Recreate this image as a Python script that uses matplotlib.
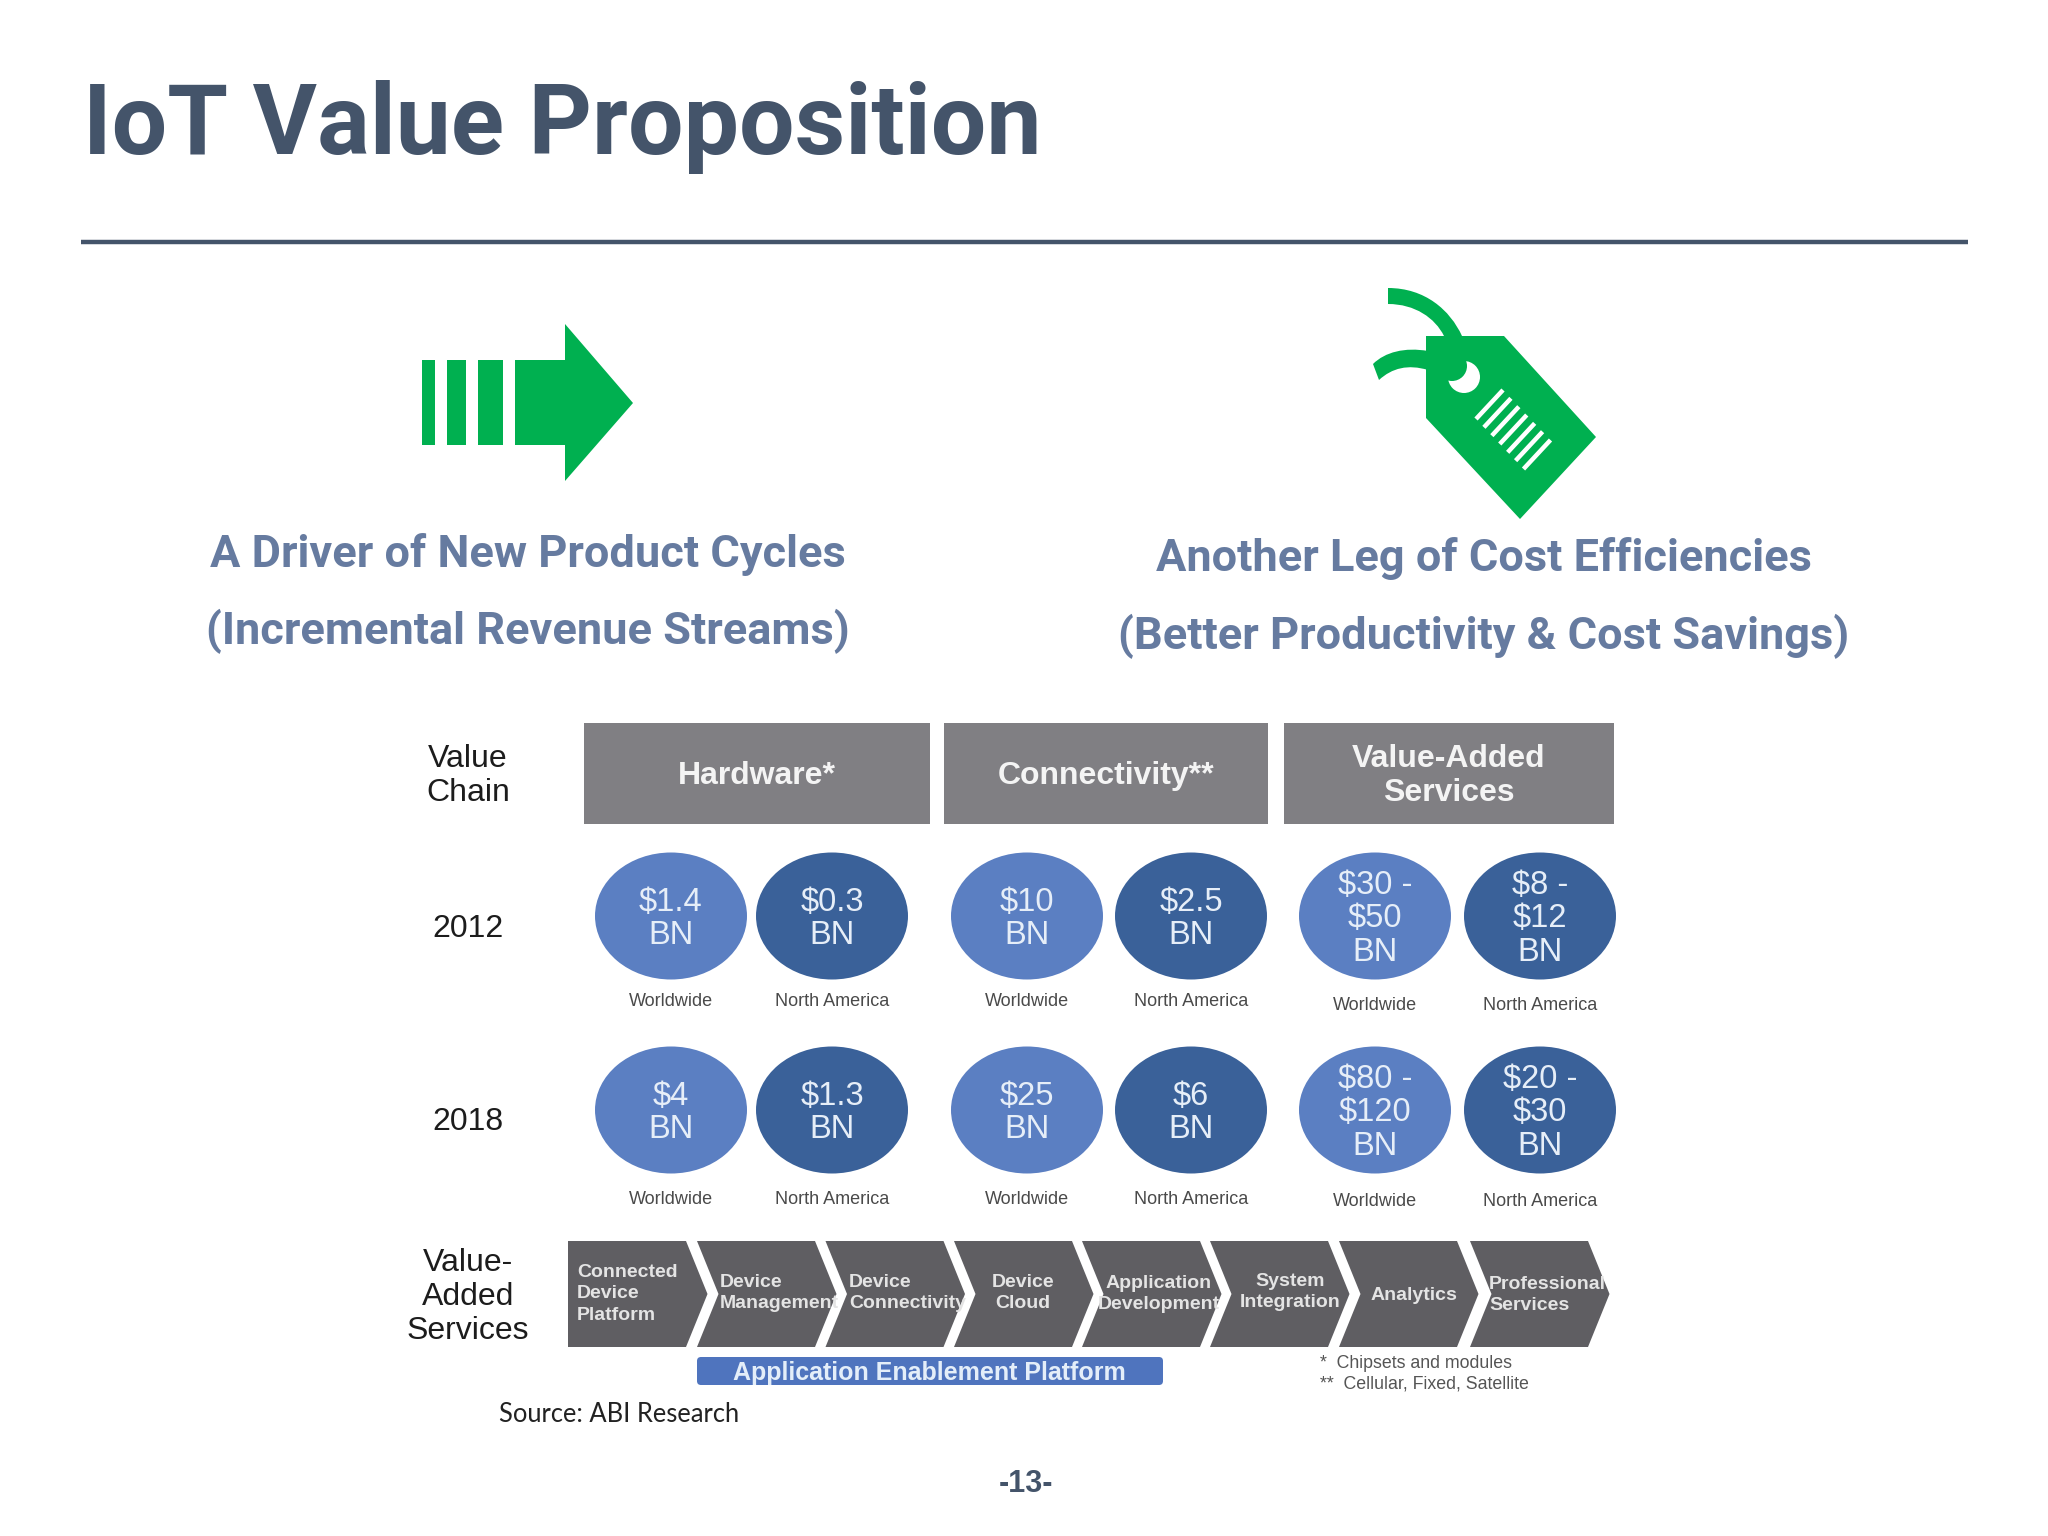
import matplotlib
matplotlib.use('Agg')
import matplotlib.pyplot as plt
from matplotlib.patches import Polygon, Ellipse, Rectangle, FancyBboxPatch, PathPatch
from matplotlib.path import Path

plt.rcParams['font.family'] = ['Liberation Sans', 'DejaVu Sans']

SLATE = '#44546A'
SUBTITLE = '#667BA0'
GREEN = '#00B050'
LIGHT_BLUE = '#5B7FC2'
DARK_BLUE = '#3A6199'
HEADER_GREY = '#807F83'
CHEVRON_GREY = '#5F5E62'

title = 'IoT Value Proposition'
left_lines = ['A Driver of New Product Cycles', '(Incremental Revenue Streams)']
right_lines = ['Another Leg of Cost Efficiencies', '(Better Productivity & Cost Savings)']

headers = ['Hardware*', 'Connectivity**', 'Value-Added\nServices']
regions = ['Worldwide', 'North America'] * 3
values_2012 = ['$1.4\nBN', '$0.3\nBN', '$10\nBN', '$2.5\nBN', '$30 -\n$50\nBN', '$8 -\n$12\nBN']
values_2018 = ['$4\nBN', '$1.3\nBN', '$25\nBN', '$6\nBN', '$80 -\n$120\nBN', '$20 -\n$30\nBN']
services = ['Connected\nDevice\nPlatform', 'Device\nManagement', 'Device\nConnectivity',
            'Device\nCloud', 'Application\nDevelopment', 'System\nIntegration',
            'Analytics', 'Professional\nServices']
footnotes = ['*  Chipsets and modules', '**  Cellular, Fixed, Satellite']

fig = plt.figure(figsize=(20.48, 15.36), dpi=100)
ax = fig.add_axes([0, 0, 1, 1])
ax.set_xlim(0, 2048)
ax.set_ylim(1536, 0)
ax.axis('off')

# heading
ax.text(83, 127, title, fontsize=70.8, fontweight='bold', color=SLATE, ha='left', va='center', family='Roboto')
ax.plot([81, 1968], [242, 242], color=SLATE, lw=3.2, solid_capstyle='butt')

# arrow icon
for x0, x1 in [(422, 435), (447, 466), (478, 503)]:
    ax.add_patch(Rectangle((x0, 360), x1 - x0, 85, fc=GREEN, ec='none'))
ax.add_patch(Polygon([(515, 360), (565, 360), (565, 324), (633, 403), (565, 481), (565, 445), (515, 445)],
                     fc=GREEN, ec='none'))

# price tag icon
ax.add_patch(Polygon([(1426, 336), (1504, 336), (1596, 437), (1520, 519), (1426, 418)], fc=GREEN, ec='none'))
ax.add_patch(Ellipse((1464, 377), 32, 32, fc='white', ec='none'))
ax.add_patch(Ellipse((1452, 366), 30, 30, fc=GREEN, ec='none'))
upper = Path([(1388, 288), (1425, 288), (1450, 310), (1462, 336), (1470, 360), (1444, 350), (1444, 336),
              (1435, 318), (1415, 304), (1388, 304), (1388, 288)],
             [Path.MOVETO, Path.CURVE4, Path.CURVE4, Path.CURVE4, Path.LINETO, Path.LINETO, Path.LINETO,
              Path.CURVE4, Path.CURVE4, Path.CURVE4, Path.CLOSEPOLY])
ax.add_patch(PathPatch(upper, fc=GREEN, ec='none'))
lower = Path([(1373, 364), (1385, 352), (1405, 347), (1428, 351), (1428, 370),
              (1408, 364), (1392, 368), (1379, 380), (1373, 364)],
             [Path.MOVETO, Path.CURVE4, Path.CURVE4, Path.CURVE4, Path.LINETO,
              Path.CURVE4, Path.CURVE4, Path.CURVE4, Path.CLOSEPOLY])
ax.add_patch(PathPatch(lower, fc=GREEN, ec='none'))
for i in range(7):
    dx = i * 47.5 / 6
    dy = i * 50 / 6
    ax.plot([1503 + dx, 1476 + dx], [390 + dy, 419 + dy], color='white', lw=3.2, solid_capstyle='butt')

# sub headings
for y, line in zip([555, 631], left_lines):
    ax.text(528, y, line, fontsize=32.5, fontweight='bold', color=SUBTITLE, ha='center', va='center', family='Roboto')
for y, line in zip([559, 636], right_lines):
    ax.text(1484, y, line, fontsize=32.5, fontweight='bold', color=SUBTITLE, ha='center', va='center', family='Roboto')

# row labels
label_color = '#1C1C1C'
for y, label in zip([776, 929, 1122, 1297], ['Value\nChain', '2012', '2018', 'Value-\nAdded\nServices']):
    ax.text(468, y, label, fontsize=23, color=label_color, ha='center', va='center', linespacing=1.19)

# value chain headers
header_x = [(584, 930), (944, 1268), (1284, 1614)]
for (x0, x1), header in zip(header_x, headers):
    ax.add_patch(Rectangle((x0, 723), x1 - x0, 101, fc=HEADER_GREY, ec='none'))
    ax.text((x0 + x1) / 2, 776, header, fontsize=23, fontweight='bold', color='#F4F4F4',
            ha='center', va='center', linespacing=1.15)

# value bubbles
bubble_x = [671, 832, 1027, 1191, 1375, 1540]
for cy, ly, values in [(916, 1002, values_2012), (1110, 1199, values_2018)]:
    for i, (cx, val, region) in enumerate(zip(bubble_x, values, regions)):
        ax.add_patch(Ellipse((cx, cy), 152, 127, fc=LIGHT_BLUE if i % 2 == 0 else DARK_BLUE, ec='none'))
        ax.text(cx, cy + 3, val, fontsize=23.5, color='#E6EEF8', ha='center', va='center', linespacing=1.11)
        ax.text(cx, ly + (3 if i >= 4 else 0), region, fontsize=13, color='#4A4A4A', ha='center', va='center')

# service chevrons, each one covers the overhanging text of the one before
chevron_left = [568, 697, 825.5, 954, 1082, 1210, 1339, 1470]
top, bottom, mid = 1241, 1347, 1294
text_pos = [(577, 'left', 1294), (720, 'left', 1293), (849, 'left', 1293), (1023, 'center', 1293),
            (1159, 'center', 1294), (1290, 'center', 1292), (1414, 'center', 1296), (1489, 'left', 1295)]
for i, (x0, service, (tx, ha, ty)) in enumerate(zip(chevron_left, services, text_pos)):
    w = 118
    pts = [(x0, top), (x0 + w, top), (x0 + w + 21.5, mid), (x0 + w, bottom), (x0, bottom)]
    if i > 0:
        pts.append((x0 + 21.5, mid))
    ax.add_patch(Polygon(pts, fc=CHEVRON_GREY, ec='none', zorder=2 + i))
    ax.text(tx, ty, service, fontsize=14, fontweight='bold', color='#E4E4E4', ha=ha, va='center',
            linespacing=1.32, zorder=2 + i)

# platform bar and notes
ax.add_patch(FancyBboxPatch((700, 1360), 460, 22, boxstyle='round,pad=3,rounding_size=4',
                            fc='#4F74BE', ec='none'))
ax.text(929, 1373, 'Application Enablement Platform', fontsize=18, fontweight='bold',
        color='#E4EEF9', ha='center', va='center')
for y, note in zip([1364, 1384], footnotes):
    ax.text(1320, y, note, fontsize=12.8, color='#555555', ha='left', va='center')
ax.text(499, 1414, 'Source: ABI Research', fontsize=18.4, color='#222222', ha='left', va='center', family='Lato')

ax.text(1026, 1484, '-13-', fontsize=22, fontweight='bold', color=SLATE, ha='center', va='center')

fig.savefig('out.png', dpi=100)
